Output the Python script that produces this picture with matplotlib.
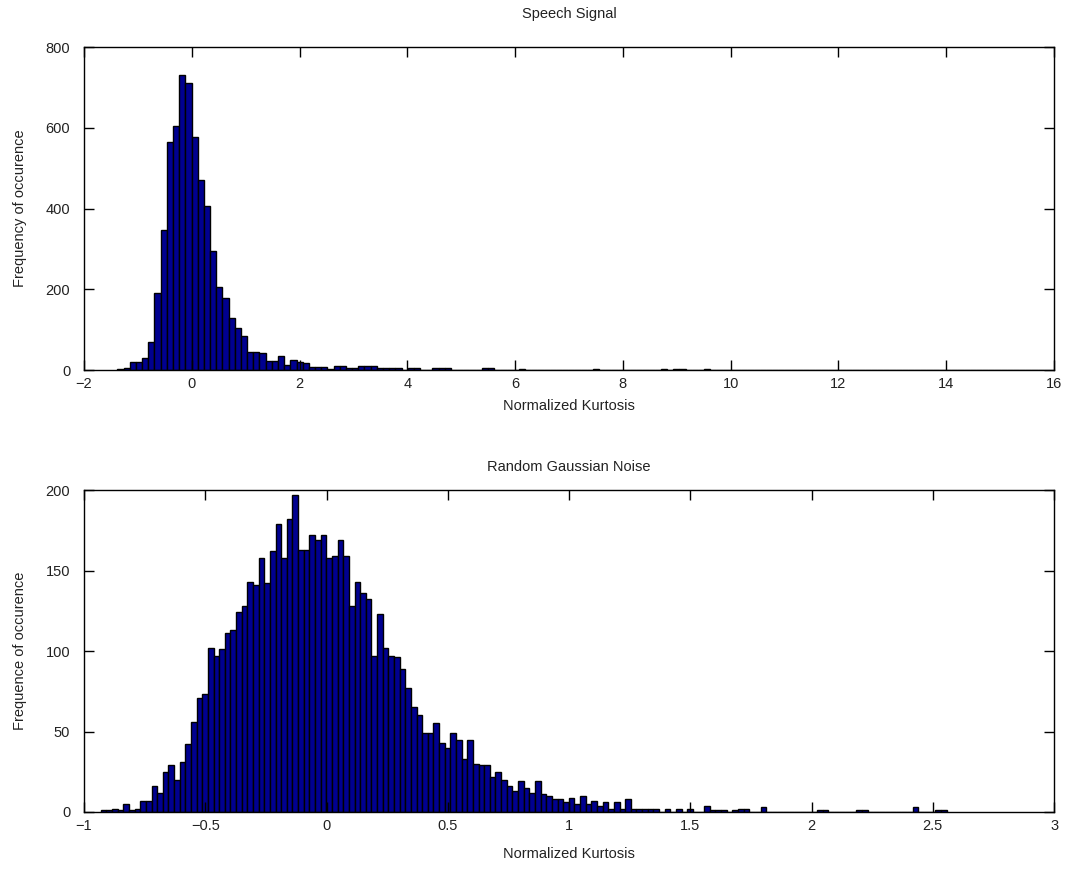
import numpy as np
import matplotlib
matplotlib.use("Agg")
import matplotlib.pyplot as plt

plt.rcParams['font.family'] = ['Liberation Sans', 'DejaVu Sans']

# histogram of normalized kurtosis, speech signal (150 bins)
speech_lo = -1.38
speech_hi = 15.81
speech_counts = [
    2, 5, 20, 20, 29, 70, 190, 347, 565, 605,
    730, 710, 576, 470, 407, 294, 205, 179, 130, 105,
    84, 45, 45, 41, 23, 23, 35, 12, 25, 21,
    18, 8, 8, 8, 2, 10, 10, 4, 4, 10,
    10, 10, 5, 5, 5, 5, 0, 4, 4, 0,
    0, 5, 5, 5, 0, 0, 0, 0, 0, 4,
    4, 0, 0, 0, 0, 2, 0, 0, 0, 0,
    0, 0, 0, 0, 0, 0, 0, 3, 0, 0,
    0, 0, 0, 0, 0, 0, 0, 0, 3, 0,
    3, 3, 0, 0, 0, 3, 0, 0, 0, 0,
] + [0] * 49 + [1]

# histogram of normalized kurtosis, gaussian noise (150 bins)
noise_lo = -0.931
noise_hi = 2.557
noise_counts = [
    1, 1, 2, 1, 5, 1, 2, 7, 7, 16,
    12, 25, 29, 20, 31, 42, 56, 71, 73, 102,
    97, 101, 111, 113, 124, 128, 143, 141, 158, 142,
    162, 179, 158, 182, 197, 163, 163, 172, 169, 172,
    158, 159, 169, 159, 128, 143, 136, 132, 97, 123,
    102, 97, 96, 89, 77, 65, 60, 49, 49, 55,
    43, 40, 49, 45, 33, 45, 30, 29, 29, 22,
    25, 20, 16, 13, 19, 15, 12, 19, 11, 10,
    8, 8, 6, 9, 5, 10, 5, 7, 4, 6,
    2, 6, 2, 8, 2, 2, 2, 2, 2, 0,
    2, 0, 2, 0, 2, 0, 0, 4, 1, 1,
    1, 0, 1, 2, 2, 0, 0, 3, 0, 0,
    0, 0, 0, 0, 0, 0, 0, 1, 1, 0,
    0, 0, 0, 0, 1, 1, 0, 0, 0, 0,
    0, 0, 0, 0, 3, 0, 0, 0, 1, 1,
]

bar_color = '#000090'
txt = '#222222'


def hist_panel(ax, lo, hi, counts, xlim, ylim, xticks, yticks, title, ylabel,
               pad, xpad):
    edges = np.linspace(lo, hi, len(counts) + 1)
    ax.bar(edges[:-1], counts, width=np.diff(edges), align='edge',
           color=bar_color, edgecolor='black', linewidth=1.0)
    ax.set_xlim(*xlim)
    ax.set_ylim(*ylim)
    ax.set_xticks(xticks)
    ax.set_yticks(yticks)
    ax.set_xticklabels([('\u2212' + str(-t)) if t < 0 else str(t) for t in xticks])
    ax.tick_params(direction='in', length=7.5, width=1, top=True, right=True,
                   labelsize=10.5, labelcolor=txt)
    ax.tick_params(axis='x', pad=5)
    ax.tick_params(axis='y', pad=10)
    for s in ax.spines.values():
        s.set_linewidth(1)
    ax.set_title(title, fontsize=10.5, color=txt, pad=pad)
    ax.set_xlabel('Normalized Kurtosis', fontsize=10.5, color=txt, labelpad=xpad)
    ax.set_ylabel(ylabel, fontsize=10.5, color=txt, labelpad=13)


fig = plt.figure(figsize=(10.69, 8.69), dpi=100)
ax1 = fig.add_axes([0.0786, 0.5742, 0.9074, 0.3717])
ax2 = fig.add_axes([0.0786, 0.0656, 0.9074, 0.3705])

hist_panel(ax1, speech_lo, speech_hi, speech_counts, (-2, 16), (0, 800),
           [-2, 0, 2, 4, 6, 8, 10, 12, 14, 16], [0, 200, 400, 600, 800],
           'Speech Signal', 'Frequency of occurence', 21, 6)
hist_panel(ax2, noise_lo, noise_hi, noise_counts, (-1, 3), (0, 200),
           [-1, -0.5, 0, 0.5, 1, 1.5, 2, 2.5, 3], [0, 50, 100, 150, 200],
           'Random Gaussian Noise', 'Frequence of occurence', 14, 10)

fig.savefig('out.png', dpi=100)
